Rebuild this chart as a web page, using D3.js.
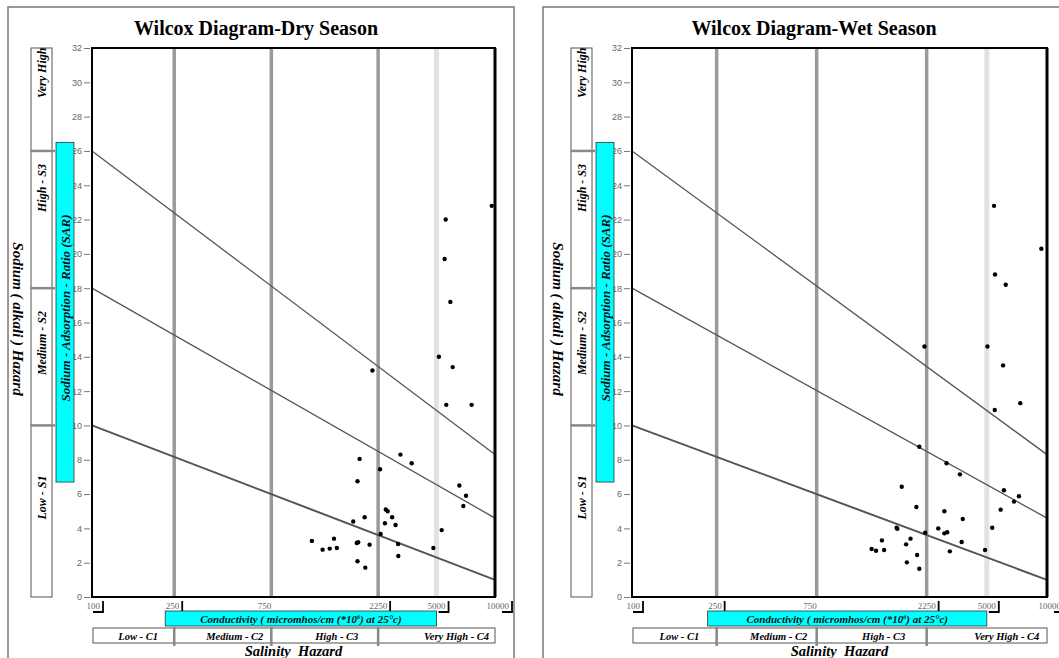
<!DOCTYPE html>
<html>
<head>
<meta charset="utf-8">
<script src="https://cdn.jsdelivr.net/npm/d3@7"></script>
<style>
  body { margin: 0; background: #fff; }
  text { font-family: "Liberation Serif", "Times New Roman", serif; }
  .tick text { font-family: "Liberation Sans", Arial, sans-serif; }
</style>
</head>
<body>
<svg id="chart" width="1059" height="658"></svg>
<script>
// 軸の目盛り
var xTicks = [100, 250, 750, 2250, 5000, 10000];
var yTicks = [0, 2, 4, 6, 8, 10, 12, 14, 16, 18, 20, 22, 24, 26, 28, 30, 32];

// 塩分・ナトリウムの分類
var salinityBounds = [100, 250, 750, 2250, 10000];
var salinityLabels = ["Low - C1", "Medium - C2", "High - C3", "Very High - C4"];
var sodiumBounds = [0, 10, 18, 26, 32];
var sodiumLabels = ["Low - S1", "Medium - S2", "High - S3", "Very High"];

// 分類境界線 (EC=100 と EC=10000 での SAR)
var lineStartSAR = [10, 18, 26];
var lineEndSAR = [1.0, 4.6, 8.3];

// 乾季
var dryEC = [9720, 5780, 5690, 6180, 5200, 6380, 2170, 5830, 8000, 1990, 3300, 3830, 2340,
    1960, 6950, 7520, 7290, 2610, 2700, 2910, 2060, 1900, 2570, 3070, 5440, 2370, 1320,
    1630, 1970, 1950, 2130, 3190, 1470, 1570, 1670, 4850, 3200, 1960, 2070];
var drySAR = [22.8, 22.0, 19.7, 17.2, 14.0, 13.4, 13.2, 11.2, 11.2, 8.05, 8.3, 7.8, 7.45,
    6.75, 6.5, 5.9, 5.3, 5.1, 5.0, 4.65, 4.65, 4.4, 4.3, 4.2, 3.9, 3.67, 3.27,
    3.4, 3.19, 3.15, 3.05, 3.09, 2.76, 2.82, 2.86, 2.86, 2.39, 2.08, 1.71];

// 雨季
var wetEC = [5600, 9530, 5680, 6570, 2220, 5050, 6350, 7780, 5660, 2150, 3160, 3770, 1910,
    6420, 7670, 7260, 2110, 6150, 3060, 3900, 5450, 1840, 1850, 2780, 2230, 3060, 3190,
    2030, 1640, 3850, 1970, 1500, 1560, 1670, 3310, 4920, 2120, 1980, 2150];
var wetSAR = [22.8, 20.3, 18.8, 18.2, 14.6, 14.6, 13.5, 11.3, 10.9, 8.76, 7.8, 7.15, 6.43,
    6.22, 5.87, 5.56, 5.25, 5.09, 5.0, 4.55, 4.04, 4.04, 3.98, 4.0, 3.75, 3.71, 3.77,
    3.4, 3.3, 3.21, 3.07, 2.8, 2.7, 2.74, 2.66, 2.74, 2.45, 2.02, 1.65];

// レイアウト
var xFrac = [0, 0.204, 0.445, 0.71, 0.855, 1];   // 目盛りの相対位置
var bracketOff = [11, 8, null, 12, 12, 17];
var sodTextPos = [0.42, 0.40, 0.27, 0.24];

var svg = d3.select("#chart");
svg.append("rect").attr("width", 1059).attr("height", 658).attr("fill", "#fff");

function drawPanel(p) {
    var g = svg.append("g");
    var x = d3.scaleLinear()
        .domain(xTicks)
        .range(xFrac.map(function (f) { return p.x0 + f * (p.x1 - p.x0); }));
    var y = d3.scaleLinear().domain([0, 32]).range([597, 48]);

    // 外枠
    g.append("path")
        .attr("d", "M" + p.fx + ",700V7H" + (p.fx + p.fw) + "V700")
        .attr("fill", "none").attr("stroke", "#777").attr("stroke-width", 1.5);

    // タイトル
    g.append("text")
        .attr("x", p.tx).attr("y", 35)
        .attr("text-anchor", "middle")
        .attr("font-size", "20px").attr("font-weight", "bold")
        .text(p.title);

    // 縦の区切り線
    g.selectAll(".vgrid")
        .data([250, 750, 2250, 5000])
        .enter().append("line")
        .attr("x1", function (d) { return x(d); })
        .attr("x2", function (d) { return x(d); })
        .attr("y1", y(32)).attr("y2", y(0))
        .attr("stroke", function (d) { return d === 5000 ? "#e2e2e2" : "#9a9a9a"; })
        .attr("stroke-width", function (d) { return d === 5000 ? 5 : 3.5; });

    // 分類境界線
    g.selectAll(".bound")
        .data(lineStartSAR)
        .enter().append("line")
        .attr("x1", x(100)).attr("y1", function (d) { return y(d); })
        .attr("x2", x(10000)).attr("y2", function (d, i) { return y(lineEndSAR[i]); })
        .attr("stroke", "#555")
        .attr("stroke-width", function (d, i) { return i === 0 ? 2 : 1.3; });

    // プロット枠
    g.append("rect")
        .attr("x", x(100)).attr("y", y(32))
        .attr("width", x(10000) - x(100)).attr("height", y(0) - y(32))
        .attr("fill", "none").attr("stroke", "#000").attr("stroke-width", 2);
    g.append("line")
        .attr("x1", x(10000)).attr("x2", x(10000))
        .attr("y1", y(32)).attr("y2", y(0))
        .attr("stroke", "#000").attr("stroke-width", 3);

    // 点
    g.selectAll(".pt")
        .data(p.ec.map(function (d, i) { return [d, p.sar[i]]; }))
        .enter().append("circle")
        .attr("cx", function (d) { return x(d[0]); })
        .attr("cy", function (d) { return y(d[1]); })
        .attr("r", 2.2)
        .attr("fill", "#000");

    // Y軸
    var ay = g.append("g")
        .attr("transform", "translate(" + (p.x0 - 2) + ",0)")
        .call(d3.axisLeft(y).tickValues(yTicks).tickSize(6).tickPadding(2));
    ay.select(".domain").remove();
    ay.selectAll(".tick line").attr("stroke", "#777");
    ay.selectAll(".tick text").attr("font-size", "9px").attr("fill", "#666");

    // X軸ラベル
    var xt = g.selectAll(".xt")
        .data(xTicks)
        .enter().append("g");
    xt.append("text")
        .attr("x", function (d, i) { return x(d) + (bracketOff[i] === null ? 0 : bracketOff[i] - 3); })
        .attr("y", 609)
        .attr("text-anchor", "end")
        .attr("font-family", "Liberation Sans, Arial, sans-serif")
        .attr("font-size", "9px").attr("fill", "#666")
        .text(function (d) { return d; });
    xt.filter(function (d, i) { return bracketOff[i] !== null; })
        .append("path")
        .attr("d", function (d) {
            var bx = x(d) + bracketOff[xTicks.indexOf(d)];
            return d === 250 ? "M" + bx + ",601V611" : "M" + bx + ",601V612H" + (bx - 10);
        })
        .attr("fill", "none").attr("stroke", "#000").attr("stroke-width", 1.8);

    // 電気伝導度ボックス
    g.append("rect")
        .attr("x", x(250) - 9).attr("y", 611)
        .attr("width", x(5000) - x(250) + 9).attr("height", 15)
        .attr("fill", "#00ffff").attr("stroke", "#333").attr("stroke-width", 0.8);
    var ct = g.append("text")
        .attr("x", (x(250) - 9 + x(5000)) / 2).attr("y", 622.5)
        .attr("text-anchor", "middle")
        .attr("font-size", "11px").attr("font-weight", "bold").attr("font-style", "italic")
        .attr("fill", "#111");
    ct.append("tspan").text("Conductivity ( micromhos/cm (*10");
    ct.append("tspan").attr("dy", -4).attr("font-size", "6px").text("6");
    ct.append("tspan").attr("dy", 4).text(") at 25°c)");

    // 塩分分類の行
    g.selectAll(".sal")
        .data(salinityLabels)
        .enter().append("rect")
        .attr("x", function (d, i) { return x(salinityBounds[i]) + (i === 0 ? 1 : 0); })
        .attr("y", 628)
        .attr("width", function (d, i) { return x(salinityBounds[i + 1]) - x(salinityBounds[i]); })
        .attr("height", 15)
        .attr("fill", "#fff").attr("stroke", "#555").attr("stroke-width", 1);
    g.selectAll(".saldiv")
        .data(salinityBounds.slice(1, 4))
        .enter().append("line")
        .attr("x1", function (d) { return x(d); })
        .attr("x2", function (d) { return x(d); })
        .attr("y1", 627).attr("y2", 646)
        .attr("stroke", "#888").attr("stroke-width", 2.5);
    var salShift = [5, 12, 12, 20];
    g.selectAll(".salt")
        .data(salinityLabels)
        .enter().append("text")
        .attr("x", function (d, i) { return (x(salinityBounds[i]) + x(salinityBounds[i + 1])) / 2 + salShift[i]; })
        .attr("y", 639.5)
        .attr("text-anchor", "middle")
        .attr("font-size", "10.5px").attr("font-weight", "bold").attr("font-style", "italic")
        .text(function (d) { return d; });
    g.append("text")
        .attr("x", (x(100) + x(10000)) / 2).attr("y", 656)
        .attr("text-anchor", "middle")
        .attr("font-size", "14.5px").attr("font-weight", "bold").attr("font-style", "italic")
        .attr("xml:space", "preserve")
        .text("Salinity  Hazard");

    // ナトリウム分類の列
    var bx0 = p.x0 - 61;
    g.selectAll(".sod")
        .data(sodiumLabels)
        .enter().append("rect")
        .attr("x", bx0)
        .attr("y", function (d, i) { return y(sodiumBounds[i + 1]); })
        .attr("width", 21)
        .attr("height", function (d, i) { return y(sodiumBounds[i]) - y(sodiumBounds[i + 1]); })
        .attr("fill", "#fff").attr("stroke", "#555").attr("stroke-width", 1);
    g.selectAll(".soddiv")
        .data(sodiumBounds.slice(1, 4))
        .enter().append("line")
        .attr("x1", bx0).attr("x2", bx0 + 24)
        .attr("y1", function (d) { return y(d); })
        .attr("y2", function (d) { return y(d); })
        .attr("stroke", "#888").attr("stroke-width", 2.5);
    g.selectAll(".sodt")
        .data(sodiumLabels)
        .enter().append("text")
        .attr("transform", function (d, i) {
            var top = y(sodiumBounds[i + 1]), bot = y(sodiumBounds[i]);
            return "translate(" + (bx0 + 15) + "," + (top + sodTextPos[i] * (bot - top)) + ") rotate(-90)";
        })
        .attr("text-anchor", "middle")
        .attr("font-size", "12px").attr("font-weight", "bold").attr("font-style", "italic")
        .text(function (d) { return d; });

    // SAR ボックス
    g.append("rect")
        .attr("x", p.x0 - 36).attr("y", y(26.5))
        .attr("width", 18).attr("height", y(6.7) - y(26.5))
        .attr("fill", "#00ffff").attr("stroke", "#333").attr("stroke-width", 0.8);
    g.append("text")
        .attr("transform", "translate(" + (p.x0 - 22.5) + "," + 308 + ") rotate(-90)")
        .attr("text-anchor", "middle")
        .attr("font-size", "13px").attr("font-weight", "bold").attr("font-style", "italic")
        .attr("fill", "#111")
        .text("Sodium - Adsorption - Ratio (SAR)");

    // Y軸タイトル
    g.append("text")
        .attr("transform", "translate(" + (p.x0 - 79) + "," + 319 + ") rotate(90)")
        .attr("text-anchor", "middle")
        .attr("font-size", "15px").attr("font-weight", "bold").attr("font-style", "italic")
        .text("Sodium ( alkali ) Hazard");
}

drawPanel({ title: "Wilcox Diagram-Dry Season", fx: 8, fw: 506, tx: 256, x0: 92, x1: 495, ec: dryEC, sar: drySAR });
drawPanel({ title: "Wilcox Diagram-Wet Season", fx: 543, fw: 530, tx: 814, x0: 632, x1: 1047, ec: wetEC, sar: wetSAR });
</script>
</body>
</html>
